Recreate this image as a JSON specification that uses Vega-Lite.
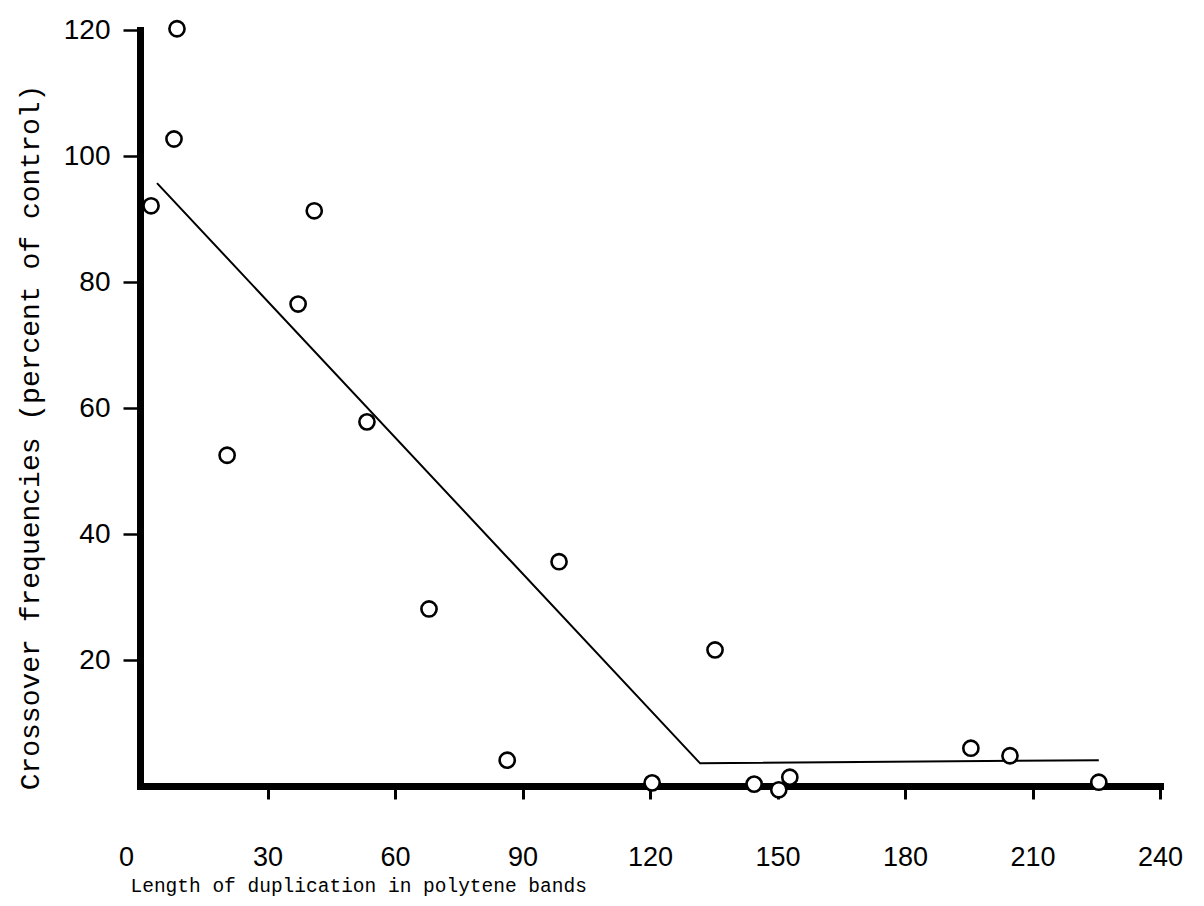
{
  "$schema": "https://vega.github.io/schema/vega-lite/v6.json",
  "width": 1020,
  "height": 756,
  "autosize": "none",
  "padding": {"left": 140, "top": 30, "right": 44, "bottom": 120},
  "background": "white",
  "config": {
    "view": {"stroke": null},
    "font": "Liberation Mono"
  },
  "layer": [
    {
      "data": {"values": [
        {"length": 4.0, "freq": 95.7},
        {"length": 131.8, "freq": 3.6},
        {"length": 225.6, "freq": 4.1}
      ]},
      "mark": {"type": "line", "color": "black", "strokeWidth": 2},
      "encoding": {
        "x": {
          "field": "length", "type": "quantitative",
          "scale": {"domain": [0, 240], "nice": false, "zero": false},
          "axis": {
            "values": [0, 30, 60, 90, 120, 150, 180, 210, 240],
            "title": "Length of duplication in polytene bands",
            "titleFont": "Liberation Mono",
            "titleFontSize": 19.5,
            "titleFontWeight": "normal",
            "titleColor": "black",
            "titleAnchor": "start",
            "titleAlign": "left",
            "titleBaseline": "middle",
            "titleX": -10,
            "titleY": 99,
            "grid": false,
            "domainColor": "black",
            "domainWidth": 7,
            "domainCap": "square",
            "tickColor": {"condition": {"test": "datum.value == 0", "value": "transparent"}, "value": "black"},
            "tickWidth": 3,
            "tickSize": 13,
            "labelFont": "Liberation Sans",
            "labelFontSize": 27,
            "labelColor": "black",
            "labelPadding": 45,
            "labelOffset": {"condition": {"test": "datum.value == 0", "value": -14}, "value": 0},
            "labelFlush": false,
            "labelOverlap": false
          }
        },
        "y": {
          "field": "freq", "type": "quantitative",
          "scale": {"domain": [0, 120], "nice": false, "zero": false},
          "axis": {
            "values": [20, 40, 60, 80, 100, 120],
            "title": "Crossover frequencies (percent of control)",
            "titleFont": "Liberation Mono",
            "titleFontSize": 28,
            "titleFontWeight": "normal",
            "titleColor": "black",
            "titleX": -110,
            "titleY": 407,
            "titleAngle": -90,
            "titleAlign": "center",
            "titleBaseline": "middle",
            "grid": false,
            "domainColor": "black",
            "domainWidth": 7,
            "domainCap": "square",
            "tickColor": "black",
            "tickWidth": 2.5,
            "tickSize": 17,
            "labelFont": "Liberation Sans",
            "labelFontSize": 28,
            "labelColor": "black",
            "labelPadding": 13,
            "labelFlush": false,
            "labelOverlap": false
          }
        }
      }
    },
    {
      "data": {"values": [
        {"length": 2.6, "freq": 92.1},
        {"length": 8.0, "freq": 102.7},
        {"length": 8.7, "freq": 120.2},
        {"length": 20.5, "freq": 52.5},
        {"length": 37.2, "freq": 76.5},
        {"length": 41.0, "freq": 91.3},
        {"length": 53.4, "freq": 57.8},
        {"length": 68.0, "freq": 28.1},
        {"length": 86.4, "freq": 4.1},
        {"length": 98.6, "freq": 35.6},
        {"length": 120.5, "freq": 0.5},
        {"length": 135.3, "freq": 21.6},
        {"length": 144.5, "freq": 0.3},
        {"length": 150.3, "freq": -0.6},
        {"length": 152.9, "freq": 1.4},
        {"length": 195.5, "freq": 6.0},
        {"length": 204.7, "freq": 4.8},
        {"length": 225.6, "freq": 0.6}
      ]},
      "mark": {"type": "point", "shape": "circle", "filled": false, "fill": "white", "fillOpacity": 1, "stroke": "black", "strokeWidth": 2.6, "size": 230, "opacity": 1},
      "encoding": {
        "x": {"field": "length", "type": "quantitative"},
        "y": {"field": "freq", "type": "quantitative"}
      }
    }
  ]
}
